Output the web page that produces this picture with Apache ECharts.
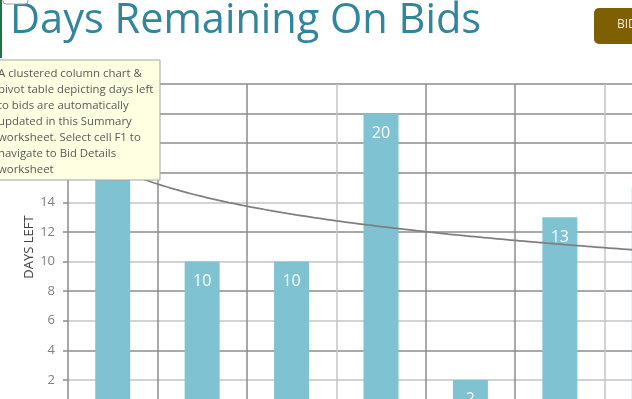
<!DOCTYPE html>
<html>
<head>
<meta charset="utf-8">
<script src="https://cdn.jsdelivr.net/npm/echarts@6/dist/echarts.min.js"></script>
<style>
html, body { margin: 0; padding: 0; background: #fff; }
#chart { width: 632px; height: 399px; }
</style>
</head>
<body>
<div id="chart"></div>
<script>
// data (bar 1 and bar 7 are hidden, estimated from the trendline)
var bids = ['Bid 1', 'Bid 2', 'Bid 3', 'Bid 4', 'Bid 5', 'Bid 6', 'Bid 7'];
var daysLeft = [20, 10, 10, 20, 2, 13, 15];
var yMin = 0, yMax = 22, yStep = 2;
var noteLines = [
    'A clustered column chart &',
    'pivot table depicting days left',
    'to bids are automatically',
    'updated in this Summary',
    'worksheet. Select cell F1 to',
    'navigate to Bid Details',
    'worksheet'
];

// logarithmic trendline (least squares on ln x), like Excel does it
var n = daysLeft.length, sx = 0, sy = 0, sxx = 0, sxy = 0;
daysLeft.forEach(function (v, i) {
    var lx = Math.log(i + 1);
    sx += lx; sy += v; sxx += lx * lx; sxy += lx * v;
});
var b = (n * sxy - sx * sy) / (n * sxx - sx * sx);
var a = (sy - b * sx) / n;
var trend = [];
for (var k = 0; k <= (n - 1) * 20; k++) {
    var x = 1 + k / 20;
    trend.push([x, a + b * Math.log(x)]);
}

var dark = '#8c8c8c', light = '#c4c4c4';
var font = 'Open Sans';

var myChart = echarts.init(document.getElementById('chart'));

var option = {
    backgroundColor: '#fff',
    animation: false,
    title: {
        text: 'Days Remaining On Bids',
        left: 5,
        top: -5,
        textStyle: {
            color: '#31859c',
            fontSize: 41.5,
            fontWeight: 'normal',
            fontFamily: font
        }
    },
    grid: {
        left: 68,
        top: 84,
        right: -62,
        bottom: -10.5,
        outerBoundsMode: 'none',
        containLabel: false
    },
    xAxis: [
        {
            type: 'category',
            data: bids,
            axisLine: { show: false },
            axisTick: { show: false },
            axisLabel: { show: false },
            splitLine: {
                show: true,
                lineStyle: {
                    width: 1.5,
                    color: [dark, dark, dark, light, dark, dark, light, dark]
                }
            }
        },
        {
            type: 'value',
            min: 0.5,
            max: n + 0.5,
            show: false
        }
    ],
    yAxis: {
        type: 'value',
        min: yMin,
        max: yMax,
        interval: yStep,
        axisLine: { show: false },
        axisTick: { show: true, length: 5, lineStyle: { color: dark, width: 1.5 } },
        axisLabel: { color: '#808080', fontSize: 13, margin: 13, fontFamily: font },
        splitLine: {
            lineStyle: {
                width: 1.5,
                color: [dark, light, dark, light, dark, light, dark, light, dark, dark, dark, dark]
            }
        }
    },
    series: [
        {
            name: 'Days Left',
            type: 'bar',
            barWidth: 35,
            itemStyle: { color: '#7fc3d3' },
            label: {
                show: true,
                position: 'insideTop',
                distance: 12,
                color: '#fff',
                fontSize: 16,
                fontFamily: font
            },
            data: daysLeft
        },
        {
            name: 'Trend',
            type: 'line',
            xAxisIndex: 1,
            showSymbol: false,
            lineStyle: { color: '#7f7f7f', width: 1.75 },
            data: trend
        }
    ],
    graphic: [
        // y axis title
        {
            type: 'text',
            x: 29,
            y: 247,
            rotation: Math.PI / 2,
            style: {
                text: 'DAYS LEFT',
                fill: '#404040',
                font: '13px "Open Sans"',
                align: 'center',
                verticalAlign: 'middle'
            }
        },
        // cell comment box
        {
            type: 'rect',
            z: 100,
            shape: { x: -10, y: 60, width: 170, height: 120 },
            style: { fill: '#ffffe1', stroke: '#a5a5a5', lineWidth: 1 }
        },
        {
            type: 'text',
            z: 101,
            left: -2,
            top: 66,
            style: {
                text: noteLines.join('\n'),
                fill: '#595959',
                font: '11.4px "Open Sans"',
                lineHeight: 16
            }
        },
        // selection edge and shape at top left
        {
            type: 'rect',
            z: 100,
            shape: { x: 0, y: 0, width: 2, height: 58 },
            style: { fill: '#217346' }
        },
        {
            type: 'rect',
            z: 100,
            shape: { x: 3, y: -6, width: 25, height: 10, r: 3 },
            style: { fill: '#fff', stroke: '#a0a0a0', lineWidth: 1 }
        },
        // button at top right
        {
            type: 'rect',
            z: 100,
            shape: { x: 594, y: 8, width: 60, height: 36, r: 5 },
            style: { fill: '#7f6000' }
        },
        {
            type: 'text',
            z: 101,
            left: 617,
            top: 19,
            style: { text: 'BIDS', fill: '#f2e8cf', font: '12px "Open Sans"' }
        }
    ]
};

myChart.setOption(option);
</script>
</body>
</html>
